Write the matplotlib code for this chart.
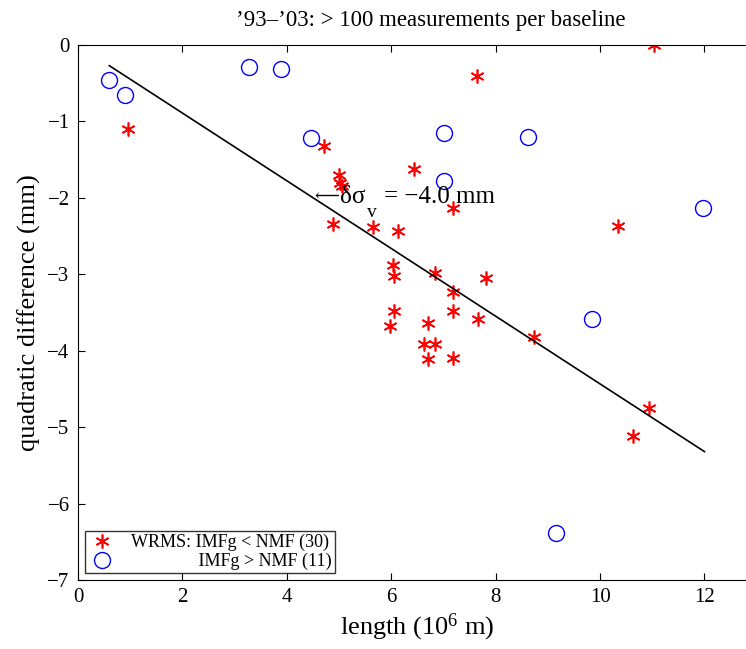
import numpy as np
import matplotlib
matplotlib.use("Agg")
import matplotlib.pyplot as plt

# WRMS: IMFg < NMF (red asterisks)
star_x = [11.03, 7.64, 0.96, 4.71, 5.00, 5.02, 5.05, 6.44, 7.19, 4.89,
          5.65, 6.13, 6.04, 6.05, 6.84, 7.18, 7.82, 6.05, 5.98, 6.70,
          7.18, 7.66, 6.63, 6.84, 6.70, 7.18, 8.74, 10.34, 10.94, 10.63]
star_y = [0.00, -0.41, -1.10, -1.32, -1.70, -1.80, -1.85, -1.62, -2.13, -2.34,
          -2.38, -2.43, -2.88, -3.02, -2.98, -3.23, -3.05, -3.48, -3.68, -3.64,
          -3.48, -3.59, -3.91, -3.91, -4.11, -4.10, -3.82, -2.37, -4.75, -5.12]

# IMFg > NMF (blue circles)
circ_x = [0.59, 0.90, 3.28, 3.89, 4.46, 7.01, 8.62, 7.01, 11.97, 9.85, 9.16]
circ_y = [-0.46, -0.65, -0.29, -0.31, -1.22, -1.15, -1.20, -1.78, -2.13, -3.59, -6.39]

# regression line
fit_x = [0.6, 12.0]
fit_y = [-0.27, -5.32]

plt.rcParams["font.family"] = ["Liberation Serif", "DejaVu Serif"]
plt.rcParams["mathtext.fontset"] = "custom"
plt.rcParams["mathtext.rm"] = "Liberation Serif"
plt.rcParams["mathtext.it"] = "Liberation Serif:italic"

fig = plt.figure(figsize=(7.46, 6.49), dpi=100)
ax = fig.add_axes([0.1046, 0.1063, 0.9097, 0.8243])

ax.plot(star_x, star_y, ls="none", marker=(6, 2, 0), ms=10, mew=1.2,
        color="red", label="WRMS: IMFg < NMF (30)")
ax.plot(circ_x, circ_y, ls="none", marker="o", ms=11.5, mew=1.0,
        mfc="none", mec="blue",
        label="               IMFg > NMF (11)")
ax.plot(fit_x, fit_y, color="black", lw=1.2)

# annotation: arrow + delta sigma with a dropped subscript
t0 = ax.text(4.52, -1.985, "\u27f5", fontsize=12.5, ha="left", va="center")
t1 = ax.annotate("\u03b4\u03c3", xy=(1.0, 0.5), xycoords=t0, xytext=(1, 0),
                 textcoords="offset points", fontsize=18, ha="left", va="center")
t2 = ax.annotate("v", xy=(1.0, 0.15), xycoords=t1, xytext=(1, 0),
                 textcoords="offset points", fontsize=14, ha="left", va="top")
ax.annotate("= \u22124.0 mm", xy=(1.0, 0.5), xycoords=(t2, t1), xytext=(5, 0),
            textcoords="offset points", fontsize=18, ha="left", va="center")

ax.set_xlim(0, 13)
ax.set_ylim(-7, 0)
ax.set_xticks(np.arange(0, 13, 2))
ax.set_yticks(np.arange(-7, 1, 1))
ax.set_yticklabels(["\u2212%d" % -v if v < 0 else "0" for v in range(-7, 1)])
ax.tick_params(direction="in", top=True, right=True, labelsize=15, length=5, pad=6)

ax.set_xlabel("length (10$^{6}$ m)", fontsize=19, labelpad=3)
ax.set_ylabel("quadratic difference (mm)", fontsize=19, labelpad=5)
ax.set_title("\u201993\u2013\u201903: > 100 measurements per baseline", fontsize=16.5,
             pad=14, x=0.52)

leg = ax.legend(loc="lower left", fontsize=13, frameon=True, fancybox=False,
                edgecolor="black", borderaxespad=0.4, handletextpad=0.8,
                borderpad=0.15, labelspacing=0.1, handlelength=1.6)
leg.get_frame().set_linewidth(1.0)

fig.savefig("out.png", dpi=100)
